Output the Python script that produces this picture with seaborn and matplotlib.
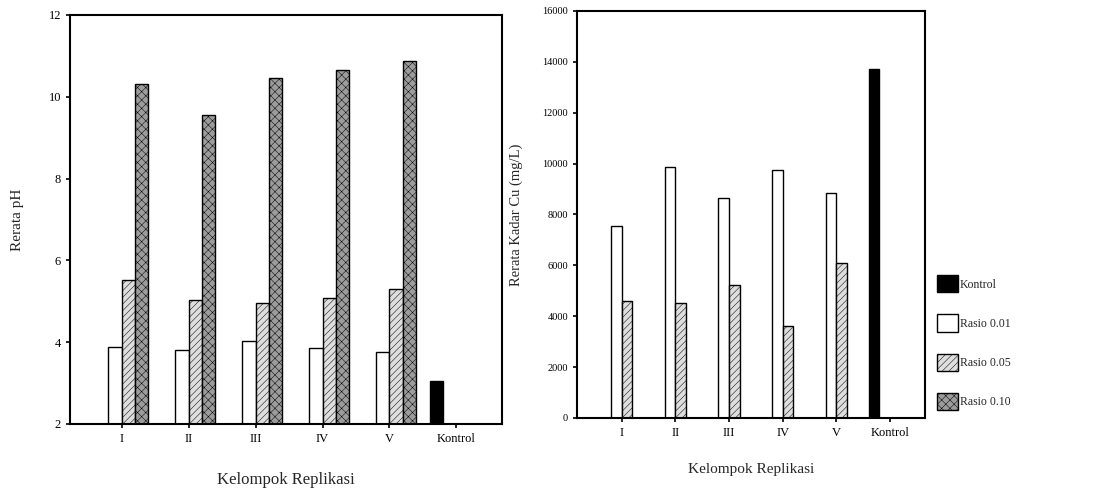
import matplotlib
matplotlib.use("Agg")
import matplotlib.pyplot as plt
from matplotlib.patches import Patch
import seaborn as sns
import pandas as pd

# ---- data ----
kelompok = ["I", "II", "III", "IV", "V", "Kontrol"]
replikasi = ["I", "II", "III", "IV", "V"]
seri = ["Kontrol", "Rasio 0.01", "Rasio 0.05", "Rasio 0.10"]

ph_rasio001 = [3.89, 3.81, 4.03, 3.85, 3.77]
ph_rasio005 = [5.52, 5.03, 4.95, 5.07, 5.29]
ph_rasio010 = [10.31, 9.55, 10.45, 10.66, 10.88]
ph_kontrol = [3.06]

cu_rasio001 = [7550, 9880, 8630, 9750, 8860]
cu_rasio005 = [4580, 4510, 5230, 3600, 6080]
cu_kontrol = [13710]

ph_ticks = [2, 4, 6, 8, 10, 12]
cu_ticks = [0, 2000, 4000, 6000, 8000, 10000, 12000, 14000, 16000]

# ---- long tables ----
def build(series_dict):
    rows = []
    for name, (cats, vals) in series_dict.items():
        for c, v in zip(cats, vals):
            rows.append({"kelompok": c, "seri": name, "nilai": v})
    return pd.DataFrame(rows)

df_ph = build({
    "Kontrol": (["Kontrol"], ph_kontrol),
    "Rasio 0.01": (replikasi, ph_rasio001),
    "Rasio 0.05": (replikasi, ph_rasio005),
    "Rasio 0.10": (replikasi, ph_rasio010),
})
df_cu = build({
    "Kontrol": (["Kontrol"], cu_kontrol),
    "Rasio 0.01": (replikasi, cu_rasio001),
    "Rasio 0.05": (replikasi, cu_rasio005),
})

face = {"Kontrol": "#000000", "Rasio 0.01": "#ffffff",
        "Rasio 0.05": "#dedede", "Rasio 0.10": "#9c9c9c"}
hatch = {"#000000": "", "#ffffff": "", "#dedede": "/////", "#9c9c9c": "xxxx"}

sns.set_style("ticks")
plt.rcParams["font.family"] = ["Liberation Serif", "DejaVu Serif"]
plt.rcParams["hatch.linewidth"] = 0.35

fig = plt.figure(figsize=(11.17, 4.91), dpi=100)
ax1 = fig.add_axes([0.0627, 0.1365, 0.3867, 0.833])
ax2 = fig.add_axes([0.5166, 0.1487, 0.3115, 0.829])

def style_bars(ax):
    for p in ax.patches:
        fc = matplotlib.colors.to_hex(p.get_facecolor())
        if fc in hatch:
            p.set_hatch(hatch[fc])
        p.set_edgecolor("black")
        p.set_linewidth(1.0)

for ax, df in ((ax1, df_ph), (ax2, df_cu)):
    sns.barplot(data=df, x="kelompok", y="nilai", hue="seri",
                order=kelompok, hue_order=seri, palette=face,
                width=0.8, dodge=True, saturation=1, edgecolor="black",
                linewidth=1.0, legend=False, ax=ax, errorbar=None)
    style_bars(ax)
    for s in ax.spines.values():
        s.set_visible(True)
        s.set_linewidth(1.5)
        s.set_color("black")
    ax.tick_params(axis="both", direction="out", length=3, width=1.2, colors="black")

# left axes
ax1.set_ylim(2, 12)
ax1.set_yticks(ph_ticks)
ax1.set_yticklabels([str(t) for t in ph_ticks], fontsize=9)
ax1.set_xlim(-0.77, 5.68)
ax1.set_xticks(range(len(kelompok)))
ax1.set_xticklabels(kelompok, fontsize=9)
ax1.set_ylabel("Rerata pH", fontsize=11, labelpad=18)
ax1.set_xlabel("")
fig.text(286 / 1117, 1 - 480 / 491, "Kelompok Replikasi", fontsize=12,
         ha="center", va="center")

# right axes
ax2.set_ylim(0, 16000)
ax2.set_yticks(cu_ticks)
ax2.set_yticklabels([str(t) for t in cu_ticks], fontsize=7.5)
ax2.set_xlim(-0.83, 5.65)
ax2.set_xticks(range(len(kelompok)))
ax2.set_xticklabels(kelompok, fontsize=9)
ax2.set_ylabel("Rerata Kadar Cu (mg/L)", fontsize=10.5, labelpad=14)
ax2.set_xlabel("")
fig.text(751 / 1117, 1 - 469 / 491, "Kelompok Replikasi", fontsize=11,
         ha="center", va="center")

handles = [Patch(facecolor=face[s], edgecolor="black", linewidth=1.0,
                 hatch=hatch[face[s]], label=s) for s in seri]
fig.legend(handles=handles, loc="upper left",
           bbox_to_anchor=(937 / 1117, 1 - 275 / 491), frameon=False,
           fontsize=8.5, handlelength=1.8, handleheight=1.9,
           labelspacing=1.85, handletextpad=0.15, borderpad=0, borderaxespad=0)

fig.savefig("out.png", dpi=100)
